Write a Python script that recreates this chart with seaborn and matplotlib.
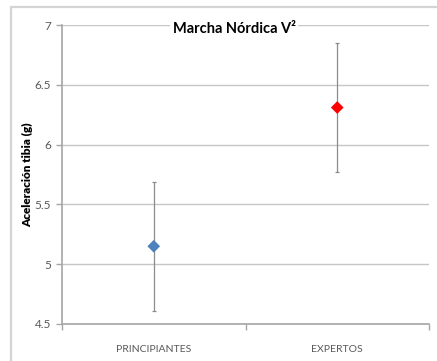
import matplotlib
matplotlib.use("Agg")
import matplotlib.pyplot as plt
from matplotlib.patches import Rectangle
import seaborn as sns
import pandas as pd
import numpy as np

# Group means of tibial acceleration and their spread
categories = ["PRINCIPIANTES", "EXPERTOS"]
means = [5.15, 6.31]
errors = [0.54, 0.54]
marker_colors = ["#4f81bd", "#ff0000"]
y_ticks = [4.5, 5, 5.5, 6, 6.5, 7]
y_tick_labels = ["4.5", "5", "5.5", "6", "6.5", "7"]
title = "Marcha Nórdica V²"
y_label = "Aceleración tibia (g)"

sns.set_theme(style="white")
plt.rcParams["font.family"] = ["Lato", "DejaVu Sans"]

df = pd.DataFrame({"grupo": categories, "media": means, "error": errors})
df["pos"] = np.arange(len(df)) + 0.5

fig = plt.figure(figsize=(4.37, 3.61), dpi=100)
ax = fig.add_axes([62 / 437, 1 - 324 / 361, (429 - 62) / 437, (324 - 25) / 361])

# outer chart frame (only top and left edges fall inside the image)
top = 1 - 7 / 361
fig.patches.append(Rectangle((11 / 437, -0.2), 1.2, top + 0.2,
                             transform=fig.transFigure, fill=False,
                             edgecolor="#d4d4d4", lw=1.6, clip_on=False))

ax.errorbar(df["pos"], df["media"], yerr=df["error"], fmt="none",
            ecolor="#8c8c8c", elinewidth=0.9, capsize=1.5, capthick=0.9, zorder=2)
sns.scatterplot(data=df, x="pos", y="media", hue="grupo", palette=marker_colors,
                marker="D", s=42, edgecolor="none", legend=False, ax=ax, zorder=3)

ax.set_xlim(0, len(categories))
ax.set_ylim(4.5, 7)
ax.set_yticks(y_ticks)
ax.set_yticklabels(y_tick_labels)
ax.set_xticks(df["pos"])
ax.set_xticklabels(categories)
ax.set_xticks(np.arange(len(categories) + 1), minor=True)

ax.grid(axis="y", color="#c6c6c6", lw=1.0)
ax.set_axisbelow(True)
for side in ["top", "right"]:
    ax.spines[side].set_visible(False)
for side in ["left", "bottom"]:
    ax.spines[side].set_color("#a6a6a6")
    ax.spines[side].set_linewidth(1.2)

ax.tick_params(axis="y", which="major", left=True, length=4, width=1, color="#a6a6a6",
               labelsize=8.5, labelcolor="#595959", pad=4)
ax.tick_params(axis="x", which="major", bottom=False, labelsize=7.5,
               labelcolor="#595959", pad=9)
ax.tick_params(axis="x", which="minor", bottom=True, length=4, width=1, color="#a6a6a6")

ax.set_xlabel("")
ax.set_ylabel(y_label, fontsize=8.5, fontweight="heavy", color="black")
ax.yaxis.set_label_coords(-(62 - 33) / 367, 0.5)

fig.text(234 / 437, 1 - 29 / 361, title, ha="center", va="center",
         fontsize=10.5, fontweight="bold", color="black",
         bbox=dict(facecolor="white", edgecolor="none", pad=2))

fig.savefig("out.png", dpi=100)
